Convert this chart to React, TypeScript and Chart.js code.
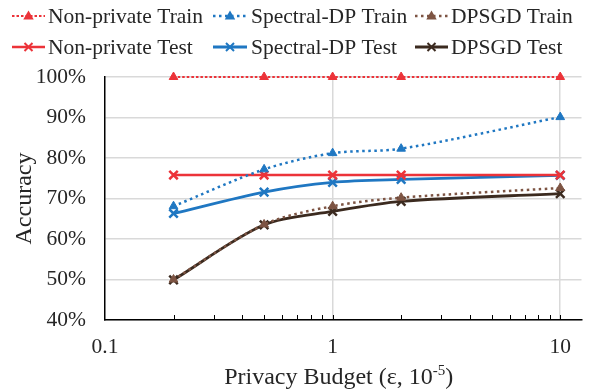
import React, { useEffect, useRef } from "react";
import { Chart, registerables } from "chart.js";

Chart.register(...registerables);

// Privacy budgets (ε, ×10^-5) on the x axis
const epsilons = [0.2, 0.5, 1, 2, 10];

// Accuracy (%) per configuration
const nonPrivateTrain = [100, 100, 100, 100, 100];
const spectralTrain = [68.1, 77.2, 81.2, 82.3, 90.1];
const dpsgdTrain = [50.0, 63.6, 68.1, 70.2, 72.6];
const nonPrivateTest = [75.8, 75.8, 75.8, 75.8, 75.8];
const spectralTest = [66.3, 71.6, 74.0, 74.7, 75.7];
const dpsgdTest = [49.9, 63.5, 66.8, 69.3, 71.2];

const xMajorTicks = [0.1, 1, 10];
const xMajorLabels = ["0.1", "1", "10"];
const xMinorTicks = [0.2, 0.3, 0.4, 0.5, 0.6, 0.7, 0.8, 0.9, 2, 3, 4, 5, 6, 7, 8, 9];

const RED = "#EC3339";
const BLUE = "#1F77C2";
const BROWN = "#7D5443";
const DARK = "#3B2A1F";
const TEXT = "#262626";
const GRID = "#d9d9d9";
const FONT = "'Liberation Serif', 'Times New Roman', serif";

type Series = {
  label: string;
  values: number[];
  color: string;
  train: boolean;
  dash: number[];
  width: number;
};

const series: Series[] = [
  { label: "Non-private Train", values: nonPrivateTrain, color: RED, train: true, dash: [2.5, 2], width: 2 },
  { label: "Spectral-DP Train", values: spectralTrain, color: BLUE, train: true, dash: [2.5, 3.5], width: 2.5 },
  { label: "DPSGD Train", values: dpsgdTrain, color: BROWN, train: true, dash: [2.5, 3.5], width: 2.5 },
  { label: "Non-private Test", values: nonPrivateTest, color: RED, train: false, dash: [], width: 2.5 },
  { label: "Spectral-DP Test", values: spectralTest, color: BLUE, train: false, dash: [], width: 2.8 },
  { label: "DPSGD Test", values: dpsgdTest, color: DARK, train: false, dash: [], width: 2.8 },
];

// legend slots: [lineStart, lineEnd, textStart, rowY]
const legendSlots = [
  [12, 45, 48, 16],
  [213, 247, 251, 16],
  [415, 448, 451, 16],
  [12, 45, 48, 47],
  [213, 247, 251, 47],
  [415, 448, 451, 47],
];

function drawTriangle(ctx: CanvasRenderingContext2D, x: number, y: number, r: number, color: string) {
  ctx.save();
  ctx.fillStyle = color;
  ctx.beginPath();
  ctx.moveTo(x, y - r);
  ctx.lineTo(x + r * 0.95, y + r * 0.65);
  ctx.lineTo(x - r * 0.95, y + r * 0.65);
  ctx.closePath();
  ctx.fill();
  ctx.restore();
}

function drawCross(ctx: CanvasRenderingContext2D, x: number, y: number, r: number, color: string) {
  ctx.save();
  ctx.strokeStyle = color;
  ctx.lineWidth = 2;
  ctx.setLineDash([]);
  ctx.beginPath();
  ctx.moveTo(x - r, y - r);
  ctx.lineTo(x + r, y + r);
  ctx.moveTo(x + r, y - r);
  ctx.lineTo(x - r, y + r);
  ctx.stroke();
  ctx.restore();
}

const decorPlugin = {
  id: "decor",
  afterDraw(chart: any) {
    const ctx: CanvasRenderingContext2D = chart.ctx;
    const xs = chart.scales.x;
    const area = chart.chartArea;

    // minor tick marks inside the plot, on the x axis
    ctx.save();
    ctx.strokeStyle = "#000";
    ctx.lineWidth = 1;
    xMinorTicks.concat([1, 10]).forEach((v) => {
      const px = Math.round(xs.getPixelForValue(v)) + 0.5;
      ctx.beginPath();
      ctx.moveTo(px, area.bottom);
      ctx.lineTo(px, area.bottom - 5);
      ctx.stroke();
    });
    ctx.restore();

    // legend
    ctx.save();
    ctx.font = `21.5px ${FONT}`;
    ctx.textBaseline = "middle";
    series.forEach((s, i) => {
      const [x0, x1, tx, y] = legendSlots[i];
      ctx.save();
      ctx.strokeStyle = s.color;
      ctx.lineWidth = s.width;
      ctx.setLineDash(s.dash);
      ctx.beginPath();
      ctx.moveTo(x0, y);
      ctx.lineTo(x1, y);
      ctx.stroke();
      ctx.restore();
      const cx = (x0 + x1) / 2;
      if (s.train) drawTriangle(ctx, cx, y, 5.5, s.color);
      else drawCross(ctx, cx, y, 4, s.color);
      ctx.fillStyle = TEXT;
      ctx.fillText(s.label, tx, y + 1);
    });
    ctx.restore();

    // x axis title with superscript exponent
    ctx.save();
    ctx.fillStyle = TEXT;
    ctx.textBaseline = "alphabetic";
    const main = "Privacy Budget (ε, 10";
    const sup = "-5";
    const tail = ")";
    ctx.font = `24px ${FONT}`;
    const wMain = ctx.measureText(main).width;
    const wTail = ctx.measureText(tail).width;
    ctx.font = `15px ${FONT}`;
    const wSup = ctx.measureText(sup).width;
    const total = wMain + wSup + wTail;
    const cx = (area.left + area.right) / 2 - 4.5;
    let x = cx - total / 2;
    const base = 384;
    ctx.font = `24px ${FONT}`;
    ctx.fillText(main, x, base);
    x += wMain;
    ctx.font = `15px ${FONT}`;
    ctx.fillText(sup, x, base - 9);
    x += wSup;
    ctx.font = `24px ${FONT}`;
    ctx.fillText(tail, x, base);
    ctx.restore();
  },
};

export default function App() {
  const canvasRef = useRef<HTMLCanvasElement | null>(null);

  useEffect(() => {
    const canvas = canvasRef.current;
    if (!canvas) return;

    const datasets = series.map((s, i) => ({
      label: s.label,
      data: epsilons.map((e, j) => ({ x: e, y: s.values[j] })),
      borderColor: s.color,
      backgroundColor: s.color,
      borderWidth: s.width,
      borderDash: s.dash,
      tension: 0.3,
      clip: false,
      pointStyle: s.train ? "triangle" : "crossRot",
      pointRadius: s.train ? 5 : 6,
      pointBorderWidth: s.train ? 1 : 2.5,
      pointBorderColor: s.color,
      pointBackgroundColor: s.color,
      order: i,
    }));

    const chart = new Chart(canvas, {
      type: "line",
      data: { datasets },
      plugins: [decorPlugin],
      options: {
        animation: false,
        responsive: false,
        layout: { padding: { top: 77, left: 0, right: 3, bottom: 0 } },
        plugins: {
          legend: { display: false },
          tooltip: { enabled: false },
        },
        scales: {
          x: {
            type: "logarithmic",
            min: 0.1,
            max: 12.4,
            afterBuildTicks: (scale: any) => {
              scale.ticks = xMajorTicks.concat(xMinorTicks).sort((a, b) => a - b).map((v) => ({ value: v }));
            },
            afterFit: (scale: any) => {
              scale.height = 69;
            },
            ticks: {
              autoSkip: false,
              maxRotation: 0,
              padding: 14,
              color: TEXT,
              font: { family: FONT, size: 21.5 },
              callback: (value: any) => {
                const idx = xMajorTicks.findIndex((m) => Math.abs(m - Number(value)) < 1e-9);
                return idx >= 0 ? xMajorLabels[idx] : "";
              },
            },
            grid: {
              drawTicks: false,
              lineWidth: 1.5,
              color: (c: any) =>
                c.tick && (Math.abs(c.tick.value - 1) < 1e-9 || Math.abs(c.tick.value - 10) < 1e-9)
                  ? GRID
                  : "rgba(0,0,0,0)",
            },
            border: { color: "#000", width: 1.5 },
          },
          y: {
            min: 40,
            max: 100,
            afterFit: (scale: any) => {
              scale.width = 105;
            },
            ticks: {
              stepSize: 10,
              padding: 19,
              color: TEXT,
              font: { family: FONT, size: 21.5 },
              callback: (v: any) => `${v}%`,
            },
            grid: { drawTicks: false, color: GRID, lineWidth: 1.5 },
            border: { color: "#000", width: 1.5 },
            title: {
              display: true,
              text: "Accuracy",
              color: TEXT,
              font: { family: FONT, size: 24 },
              padding: { top: 10, bottom: 0 },
            },
          },
        },
      },
    } as any);

    return () => chart.destroy();
  }, []);

  return (
    <div style={{ position: "absolute", left: 0, top: 0, width: 590, height: 389, background: "#fff" }}>
      <canvas ref={canvasRef} width={590} height={389} />
    </div>
  );
}
